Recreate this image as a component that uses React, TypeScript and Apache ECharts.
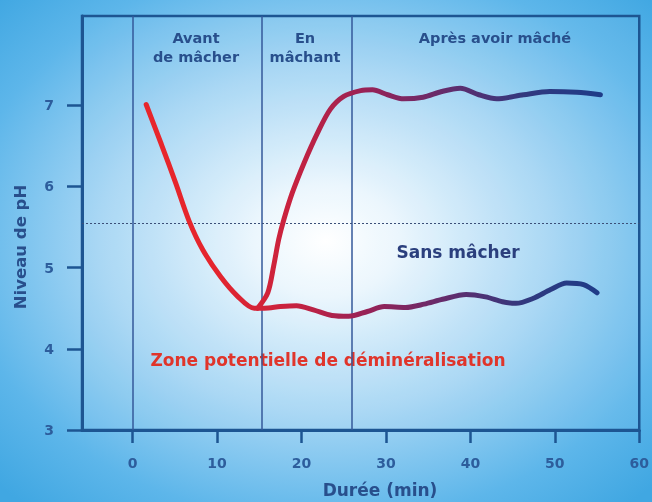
import React, { useEffect, useRef } from "react";
import * as echarts from "echarts";

const xTicks = [0, 10, 20, 30, 40, 50, 60];
const yTicks = [3, 4, 5, 6, 7];
const phaseLines = [0, 15.3, 25.9];
const criticalPh = 5.55;

// Before chewing + without chewing (descending then flat)
const sansMacher: [number, number][] = [
  [1.6, 7.01], [3.4, 6.52], [5.1, 6.04], [6.7, 5.57], [8.3, 5.22], [10.4, 4.89],
  [12.4, 4.65], [14.4, 4.5], [15.6, 4.5], [17.5, 4.52], [19.4, 4.53], [21.4, 4.48],
  [23.6, 4.41], [25.6, 4.4], [27.8, 4.46], [29.8, 4.52], [32.3, 4.51], [34.5, 4.55],
  [36.7, 4.61], [39.5, 4.67], [41.8, 4.64], [43.8, 4.58], [45.4, 4.56], [47.4, 4.62],
  [49.5, 4.73], [51.4, 4.81], [53.4, 4.79], [55.0, 4.69]
];

// While chewing and after
const enMachant: [number, number][] = [
  [14.8, 4.5], [16.0, 4.69], [16.7, 5.02], [17.3, 5.35], [17.9, 5.59], [18.9, 5.92],
  [20.3, 6.29], [21.9, 6.66], [23.4, 6.95], [25.0, 7.11], [27.0, 7.18], [28.4, 7.19],
  [30.2, 7.13], [32.1, 7.08], [34.4, 7.1], [36.6, 7.17], [38.8, 7.21], [41.0, 7.13],
  [43.1, 7.08], [46.3, 7.13], [49.4, 7.17], [52.6, 7.16], [55.4, 7.13]
];

const phaseLabels = ["Avant\nde mâcher", "En\nmâchant", "Après avoir mâché"];
const curveLabel = "Sans mâcher";
const zoneLabel = "Zone potentielle de déminéralisation";
const xName = "Durée (min)";
const yName = "Niveau de pH";

const FONT = "'DejaVu Sans', 'Open Sans', sans-serif";
const DARK = "#1d5592";
const TEXT = "#284f8c";

export default function App() {
  const ref = useRef<HTMLDivElement>(null);
  useEffect(() => {
    const chart = echarts.init(ref.current!, null, { renderer: "svg" });
    const phaseText = (text: string, x: number) => ({
      type: "text",
      x,
      y: 28,
      style: {
        text,
        fill: TEXT,
        font: `bold 14.5px ${FONT}`,
        align: "center",
        verticalAlign: "top",
        lineHeight: 19
      }
    });
    chart.setOption({
      animation: false,
      graphic: [
        {
          type: "rect",
          z: -10,
          shape: { x: 0, y: 0, width: 652, height: 502 },
          style: {
            fill: {
              type: "radial",
              x: 0.5,
              y: 0.48,
              r: 0.7,
              colorStops: [
                { offset: 0, color: "#ffffff" },
                { offset: 0.16, color: "#eaf6fd" },
                { offset: 0.5, color: "#a4d5f4" },
                { offset: 0.8, color: "#5db6ea" },
                { offset: 1, color: "#40a7e2" }
              ]
            }
          }
        },
        phaseText(phaseLabels[0], 196),
        phaseText(phaseLabels[1], 305),
        phaseText(phaseLabels[2], 495),
        {
          type: "text",
          x: 458,
          y: 252,
          style: {
            text: curveLabel,
            fill: "#2b3f7d",
            font: `bold 17px ${FONT}`,
            align: "center",
            verticalAlign: "middle"
          }
        },
        {
          type: "text",
          x: 328,
          y: 360,
          style: {
            text: zoneLabel,
            fill: "#e0352b",
            font: `bold 17px ${FONT}`,
            align: "center",
            verticalAlign: "middle"
          }
        },
        {
          type: "text",
          x: 20,
          y: 247,
          rotation: Math.PI / 2,
          style: {
            text: yName,
            fill: TEXT,
            font: `bold 16.5px ${FONT}`,
            align: "center",
            verticalAlign: "middle"
          }
        },
        {
          type: "text",
          x: 380,
          y: 490,
          style: {
            text: xName,
            fill: TEXT,
            font: `bold 17px ${FONT}`,
            align: "center",
            verticalAlign: "middle"
          }
        }
      ],
      grid: {
        left: 82,
        right: 12,
        top: 16,
        bottom: 72,
        show: true,
        borderColor: DARK,
        borderWidth: 2.5,
        backgroundColor: "rgba(255,255,255,0.06)"
      },
      xAxis: {
        type: "value",
        min: -6,
        max: 60,
        splitLine: { show: false },
        axisLine: { onZero: false, lineStyle: { color: DARK, width: 3 } },
        axisTick: {
          show: true,
          length: 13,
          customValues: xTicks,
          lineStyle: { color: DARK, width: 2.5 }
        },
        axisLabel: {
          customValues: xTicks,
          margin: 26,
          color: "#2d5d9c",
          fontWeight: "bold",
          fontSize: 14,
          fontFamily: FONT
        }
      },
      yAxis: {
        type: "value",
        min: 3,
        max: 8.1,
        splitLine: { show: false },
        axisLine: { onZero: false, lineStyle: { color: DARK, width: 3 } },
        axisTick: {
          show: true,
          length: 15,
          customValues: yTicks,
          lineStyle: { color: DARK, width: 2.5 }
        },
        axisLabel: {
          customValues: yTicks,
          margin: 28,
          color: "#2d5d9c",
          fontWeight: "bold",
          fontSize: 14,
          fontFamily: FONT
        }
      },
      visualMap: {
        type: "continuous",
        show: false,
        dimension: 0,
        seriesIndex: [0, 1],
        min: 0,
        max: 56,
        inRange: {
          color: ["#e8262b", "#e5252d", "#c8223f", "#962257", "#622c6c", "#31397f", "#1d3c89"]
        }
      },
      series: [
        {
          type: "line",
          name: curveLabel,
          data: sansMacher,
          smooth: 0.3,
          showSymbol: false,
          lineStyle: { width: 5, cap: "round" },
          z: 5
        },
        {
          type: "line",
          name: "En mâchant",
          data: enMachant,
          smooth: 0.3,
          showSymbol: false,
          lineStyle: { width: 5, cap: "round" },
          z: 5
        },
        {
          type: "line",
          data: [],
          silent: true,
          markLine: {
            silent: true,
            symbol: "none",
            label: { show: false },
            data: [
              ...phaseLines.map((v) => ({
                xAxis: v,
                lineStyle: { color: "#34599a", width: 1.5, type: "solid" }
              })),
              {
                yAxis: criticalPh,
                lineStyle: { color: "#3b4f78", width: 1.2, type: [2, 2] }
              }
            ]
          },
          z: 2
        }
      ]
    });
    return () => chart.dispose();
  }, []);
  return (
    <div
      ref={ref}
      style={{ position: "fixed", left: 0, top: 0, width: 652, height: 502 }}
    />
  );
}
